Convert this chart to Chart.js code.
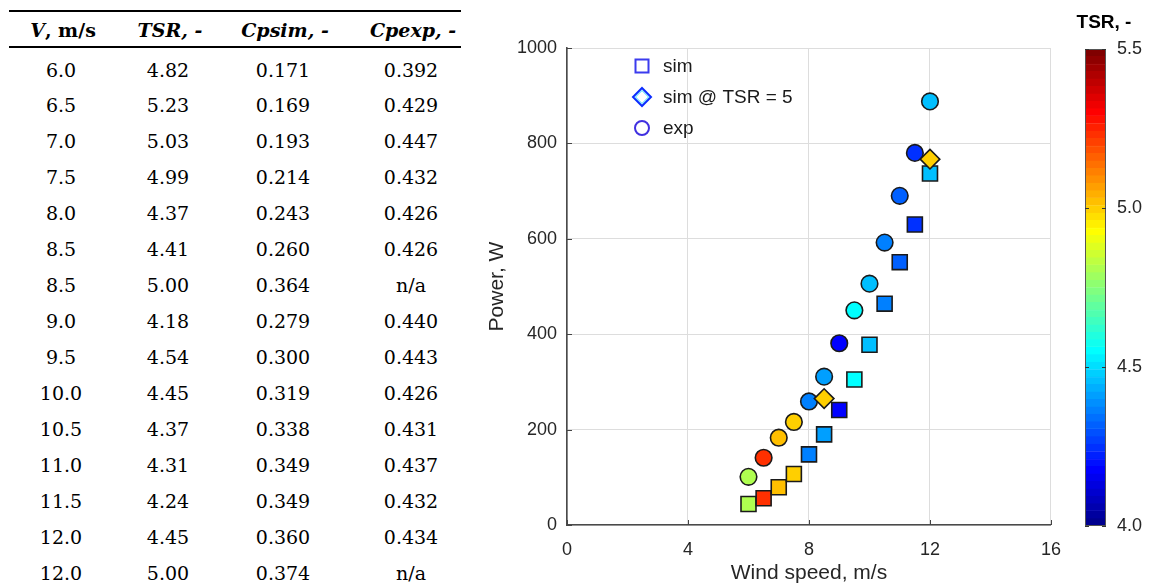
<!DOCTYPE html>
<html><head><meta charset="utf-8">
<script src="https://cdn.jsdelivr.net/npm/chart.js@4.4.0/dist/chart.umd.min.js"></script>
<style>
html,body{margin:0;padding:0;background:#fff;}
body{width:1150px;height:587px;position:relative;overflow:hidden;}
#tbl{position:absolute;left:0;top:0;width:470px;height:587px;font-family:"DejaVu Serif",serif;font-size:19px;color:#000;}
.rule{position:absolute;left:9px;width:452px;background:#000;}
.cell{position:absolute;white-space:nowrap;transform:translateX(-50%);height:36px;line-height:36px;}
.wrap{position:absolute;top:0;}
</style></head>
<body>
<div id="tbl"></div>
<div class="wrap" style="left:470px;width:605px;height:587px;"><canvas id="main"></canvas></div>
<div class="wrap" style="left:1060px;width:90px;height:587px;"><canvas id="cb"></canvas></div>
<script>
// ---------- table data ----------
const tableSpeed = [6.0, 6.5, 7.0, 7.5, 8.0, 8.5, 8.5, 9.0, 9.5, 10.0, 10.5, 11.0, 11.5, 12.0, 12.0];
const tableTSR   = [4.82, 5.23, 5.03, 4.99, 4.37, 4.41, 5.00, 4.18, 4.54, 4.45, 4.37, 4.31, 4.24, 4.45, 5.00];
const tableCpSim = [0.171, 0.169, 0.193, 0.214, 0.243, 0.260, 0.364, 0.279, 0.300, 0.319, 0.338, 0.349, 0.349, 0.360, 0.374];
const tableCpExp = [0.392, 0.429, 0.447, 0.432, 0.426, 0.426, null, 0.440, 0.443, 0.426, 0.431, 0.437, 0.432, 0.434, null];

// ---------- chart data ----------
const simSpeed = [6.0, 6.5, 7.0, 7.5, 8.0, 8.5, 9.0, 9.5, 10.0, 10.5, 11.0, 11.5, 12.0];
const simTSR   = [4.82, 5.23, 5.03, 4.99, 4.37, 4.41, 4.18, 4.54, 4.45, 4.37, 4.31, 4.24, 4.45];
const simPower = [44, 56, 79, 107, 148, 190, 241, 305, 378, 464, 551, 630, 737];
const tsr5Speed = [8.5, 12.0];
const tsr5TSR   = [5.00, 5.00];
const tsr5Power = [265, 767];
const expSpeed = [6.0, 6.5, 7.0, 7.5, 8.0, 8.5, 9.0, 9.5, 10.0, 10.5, 11.0, 11.5, 12.0];
const expTSR   = [4.82, 5.23, 5.03, 4.99, 4.37, 4.41, 4.18, 4.54, 4.45, 4.37, 4.31, 4.24, 4.45];
const expPower = [101, 141, 183, 216, 259, 311, 381, 450, 506, 592, 690, 780, 888];
const xTicks = [0, 4, 8, 12, 16];
const yTicks = [0, 200, 400, 600, 800, 1000];
const cbTicks = [4.0, 4.5, 5.0, 5.5];
const legendLabels = ['sim', 'sim @ TSR = 5', 'exp'];

// ---------- table ----------
(function(){
  const t = document.getElementById('tbl');
  const colX = [61, 168, 283, 411];
  const add = (html, x, cy) => { const d = document.createElement('div'); d.className='cell'; d.style.left = x+'px'; d.style.top = (cy-18)+'px'; d.innerHTML = html; t.appendChild(d); };
  const r1 = document.createElement('div'); r1.className='rule'; r1.style.top='10px'; r1.style.height='2px'; t.appendChild(r1);
  const r2 = document.createElement('div'); r2.className='rule'; r2.style.top='46px'; r2.style.height='1.6px'; t.appendChild(r2);
  const heads = ['<b><i>V</i>, m/s</b>', '<b><i>TSR, -</i></b>', '<b><i>Cpsim, -</i></b>', '<b><i>Cpexp, -</i></b>'];
  heads.forEach((h,i)=>add(h, colX[i]+2, 30));
  tableSpeed.forEach((v,i)=>{
    const cy = 69.5 + i*35.95;
    add(v.toFixed(1), colX[0], cy);
    add(tableTSR[i].toFixed(2), colX[1], cy);
    add(tableCpSim[i].toFixed(3), colX[2], cy);
    add(tableCpExp[i]===null ? 'n/a' : tableCpExp[i].toFixed(3), colX[3], cy);
  });
})();

// ---------- jet colormap (MATLAB jet(64)) ----------
function jetMap(m){
  const n = Math.ceil(m/4);
  const u = [];
  for(let i=1;i<=n;i++) u.push(i/n);
  for(let i=1;i<n;i++) u.push(1);
  for(let i=n;i>=1;i--) u.push(i/n);
  const off = Math.ceil(n/2) - (m%4===1?1:0);
  const J = Array.from({length:m},()=>[0,0,0]);
  for(let k=0;k<u.length;k++){
    const g = off + k + 1, r = g + n, b = g - n;
    if (g>=1 && g<=m) J[g-1][1]=u[k];
    if (r>=1 && r<=m) J[r-1][0]=u[k];
    if (b>=1 && b<=m) J[b-1][2]=u[k];
  }
  return J.map(c=>`rgb(${Math.round(c[0]*255)},${Math.round(c[1]*255)},${Math.round(c[2]*255)})`);
}
const NC = 64, CMIN = 4.0, CMAX = 5.5;
const JET = jetMap(NC);
const colorOf = v => JET[Math.min(NC-1, Math.max(0, Math.floor((v-CMIN)/(CMAX-CMIN)*NC)))];

const SANS = '"Liberation Sans", Arial, sans-serif';
const TXT = '#262626';

// ---------- main chart ----------
const pts = (xs, ys) => xs.map((x,i)=>({x, y: ys[i]}));
const mainPlugin = {
  id: 'mainExtras',
  afterDraw(chart){
    const {ctx, chartArea: a, scales: {x, y}} = chart;
    ctx.save();
    ctx.strokeStyle = '#444'; ctx.lineWidth = 1;
    xTicks.forEach(v=>{ const px = Math.round(x.getPixelForValue(v))+0.5; ctx.beginPath(); ctx.moveTo(px, a.bottom); ctx.lineTo(px, a.bottom-5); ctx.stroke(); });
    yTicks.forEach(v=>{ const py = Math.round(y.getPixelForValue(v))+0.5; ctx.beginPath(); ctx.moveTo(a.left, py); ctx.lineTo(a.left+5, py); ctx.stroke(); });
    // legend
    const mx = 172, tx = 193, ys = [66, 97, 128];
    ctx.lineWidth = 2;
    ctx.strokeStyle = '#3b3bee'; ctx.strokeRect(mx-6.5, ys[0]-6.5, 13, 13);
    ctx.strokeStyle = '#0a2cff'; ctx.beginPath(); ctx.moveTo(mx, ys[1]-9); ctx.lineTo(mx+9, ys[1]); ctx.lineTo(mx, ys[1]+9); ctx.lineTo(mx-9, ys[1]); ctx.closePath(); ctx.stroke();
    ctx.strokeStyle = '#00c8ff'; ctx.lineWidth = 0.8; ctx.beginPath(); ctx.moveTo(mx, ys[1]-6.5); ctx.lineTo(mx+6.5, ys[1]); ctx.lineTo(mx, ys[1]+6.5); ctx.lineTo(mx-6.5, ys[1]); ctx.closePath(); ctx.stroke();
    ctx.lineWidth = 2; ctx.strokeStyle = '#4030e0'; ctx.beginPath(); ctx.arc(mx, ys[2], 7, 0, Math.PI*2); ctx.stroke();
    ctx.fillStyle = '#1a1a1a'; ctx.font = '19px ' + SANS; ctx.textBaseline = 'middle'; ctx.textAlign = 'left';
    legendLabels.forEach((l,i)=>ctx.fillText(l, tx, ys[i]+1));
    ctx.restore();
  }
};
new Chart(document.getElementById('main'), {
  type: 'scatter',
  data: { datasets: [
    { label: legendLabels[0], data: pts(simSpeed, simPower), pointStyle: 'rect', pointRadius: 10.6, pointBackgroundColor: simTSR.map(colorOf), pointBorderColor: '#1a1a1a', pointBorderWidth: 1.6, order: 2 },
    { label: legendLabels[1], data: pts(tsr5Speed, tsr5Power), pointStyle: 'rectRot', pointRadius: 9.8, pointBackgroundColor: tsr5TSR.map(colorOf), pointBorderColor: '#1a1a1a', pointBorderWidth: 1.6, order: 0 },
    { label: legendLabels[2], data: pts(expSpeed, expPower), pointStyle: 'circle', pointRadius: 8.3, pointBackgroundColor: expTSR.map(colorOf), pointBorderColor: '#1a1a1a', pointBorderWidth: 1.6, order: 1 }
  ]},
  options: {
    responsive: true, maintainAspectRatio: false, animation: false,
    layout: { padding: { top: 48, right: 19, bottom: 0, left: 0 } },
    plugins: { legend: { display: false }, tooltip: { enabled: false } },
    scales: {
      x: { type: 'linear', min: 0, max: 16,
        afterBuildTicks: s => { s.ticks = xTicks.map(v=>({value: v})); },
        ticks: { padding: 14, color: TXT, font: { family: SANS, size: 18 }, callback: v => String(v) },
        grid: { color: '#dddddd', lineWidth: 1, drawTicks: false },
        border: { color: '#4a4a4a', width: 1.6 },
        title: { display: true, text: 'Wind speed, m/s', color: TXT, font: { family: SANS, size: 21 }, padding: { top: 0, bottom: 1 } },
        afterFit: s => { s.height = 62; } },
      y: { type: 'linear', min: 0, max: 1000,
        afterBuildTicks: s => { s.ticks = yTicks.map(v=>({value: v})); },
        ticks: { padding: 10, color: TXT, font: { family: SANS, size: 18 }, callback: v => String(v) },
        grid: { color: '#dddddd', lineWidth: 1, drawTicks: false },
        border: { color: '#4a4a4a', width: 1.6 },
        title: { display: true, text: 'Power, W', color: TXT, font: { family: SANS, size: 21 }, padding: { top: 15, bottom: 0 } },
        afterFit: s => { s.width = 97; } }
    }
  },
  plugins: [mainPlugin]
});

// ---------- colorbar ----------
const cbBands = JET.map((c,i)=>({ lo: CMIN + i*(CMAX-CMIN)/NC, hi: CMIN + (i+1)*(CMAX-CMIN)/NC, c }));
const cbPlugin = {
  id: 'cbExtras',
  afterDraw(chart){
    const {ctx, chartArea: a, scales: {y}} = chart;
    ctx.save();
    ctx.strokeStyle = '#555'; ctx.lineWidth = 1;
    ctx.strokeRect(Math.round(a.left)+0.5, Math.round(a.top)+0.5, Math.round(a.right-a.left)-1, Math.round(a.bottom-a.top)-1);
    ctx.strokeStyle = '#333';
    cbTicks.forEach(v=>{ const py = Math.round(y.getPixelForValue(v))+0.5;
      ctx.beginPath(); ctx.moveTo(a.left, py); ctx.lineTo(a.left+4, py); ctx.moveTo(a.right, py); ctx.lineTo(a.right-4, py); ctx.stroke(); });
    ctx.fillStyle = '#000'; ctx.font = 'bold 19px ' + SANS; ctx.textAlign = 'center'; ctx.textBaseline = 'middle';
    ctx.fillText('TSR, -', 44, 23);
    ctx.restore();
  }
};
new Chart(document.getElementById('cb'), {
  type: 'bar',
  data: { labels: [''], datasets: cbBands.map(b=>({ data: [[b.lo, b.hi]], backgroundColor: b.c, borderColor: b.c, borderWidth: 0.6, borderSkipped: false, grouped: false, barPercentage: 1, categoryPercentage: 1 })) },
  options: {
    responsive: true, maintainAspectRatio: false, animation: false,
    layout: { padding: { top: 49, bottom: 61, left: 25, right: 0 } },
    plugins: { legend: { display: false }, tooltip: { enabled: false } },
    scales: {
      x: { display: false },
      y: { position: 'right', min: CMIN, max: CMAX,
        afterBuildTicks: s => { s.ticks = cbTicks.map(v=>({value: v})); },
        ticks: { padding: 11, color: TXT, font: { family: SANS, size: 18 }, callback: v => Number(v).toFixed(1) },
        grid: { display: false, drawTicks: false }, border: { display: false },
        afterFit: s => { s.width = 44; } }
    }
  },
  plugins: [cbPlugin]
});
</script>
</body></html>
